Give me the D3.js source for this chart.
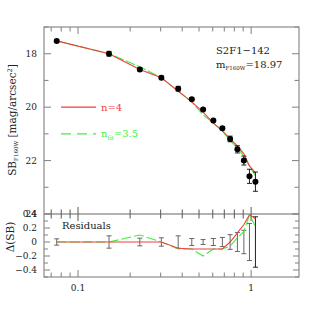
<!DOCTYPE html>
<html><head><meta charset="utf-8">
<script src="https://cdn.jsdelivr.net/npm/d3@7"></script>
<style>body{margin:0;background:#fff}svg{display:block}</style>
</head><body>
<script>
// Data
const radius = [0.0753, 0.151, 0.2275, 0.303, 0.379, 0.454, 0.528, 0.605, 0.682, 0.756, 0.833, 0.908, 0.978, 1.059];
const sb     = [17.52, 18.00, 18.59, 18.90, 19.31, 19.70, 20.09, 20.50, 20.79, 21.19, 21.58, 22.00, 22.59, 22.79];
const sbErr  = [0.045, 0.088, 0.055, 0.06, 0.088, 0.05, 0.035, 0.05, 0.065, 0.105, 0.135, 0.167, 0.265, 0.36];
const residN4  = [0, 0, 0, 0, -0.09, -0.1, -0.1, -0.1, -0.1, 0.0, 0.13, 0.25, 0.39, 0.33];
const residFit = [0, 0, 0.1, 0, -0.1, -0.1, -0.2, -0.1, -0.1, -0.06, 0.06, 0.15, 0.39, 0.22];
const xMajor = [0.1, 1];
const xMinor = [0.07, 0.08, 0.09, 0.2, 0.3, 0.4, 0.5, 0.6, 0.7, 0.8, 0.9];
const yMainMajor = [18, 20, 22, 24];
const yMainMinor = [17, 19, 21, 23];
const yResMajor = [-0.4, -0.2, 0, 0.2, 0.4];
const yResMinor = [-0.5, -0.3, -0.1, 0.1, 0.3];
const objName = "S2F1−142";
const magLabel = "18.97";

const W = 316, H = 316;
const L = 44, R = 299, T = 27, M = 214, B = 277;
const svg = d3.select("body").append("svg").attr("width", W).attr("height", H);
const font = "DejaVu Serif";
const axisCol = "#8a8a8a";
const red = "#f04040", green = "#40ee40";

const x = d3.scaleLog().domain([0.0636, 1.89]).range([L, R]);
const y = d3.scaleLinear().domain([17, 24]).range([T, M]);
const yr = d3.scaleLinear().domain([0.4, -0.5]).range([M, B]);

const g = svg.append("g");

// frames
g.append("rect").attr("x", L).attr("y", T).attr("width", R - L).attr("height", B - T)
  .attr("fill", "none").attr("stroke", axisCol).attr("stroke-width", 1.2);
g.append("line").attr("x1", L).attr("x2", R).attr("y1", M).attr("y2", M)
  .attr("stroke", "#666").attr("stroke-width", 1.2);

function tick(x1, y1, x2, y2, col) {
  g.append("line").attr("x1", x1).attr("y1", y1).attr("x2", x2).attr("y2", y2)
    .attr("stroke", col || axisCol).attr("stroke-width", 1.1);
}
// x ticks: top of main, both sides of divider, bottom of residual
[[xMajor, 7], [xMinor, 4.5]].forEach(([arr, len]) => {
  arr.forEach(v => {
    const px = x(v);
    tick(px, T, px, T + len);
    tick(px, M, px, M - len, "#666");
    tick(px, M, px, M + len, "#666");
    tick(px, B, px, B - len);
  });
});
// y ticks main
[[yMainMajor, 7], [yMainMinor, 4.5]].forEach(([arr, len]) => {
  arr.forEach(v => { tick(L, y(v), L + len, y(v)); tick(R, y(v), R - len, y(v)); });
});
[[yResMajor, 6], [yResMinor, 4]].forEach(([arr, len]) => {
  arr.forEach(v => { tick(L, yr(v), L + len, yr(v)); tick(R, yr(v), R - len, yr(v)); });
});

// tick labels
const tl = svg.append("g").attr("font-family", font).attr("font-size", 9).attr("fill", "#222");
yMainMajor.forEach(v => tl.append("text").attr("x", 37).attr("y", y(v)).attr("dy", "0.35em")
  .attr("text-anchor", "end").text(v));
yResMajor.forEach(v => tl.append("text").attr("x", 37).attr("y", yr(v)).attr("dy", "0.35em")
  .attr("text-anchor", "end").text(v === 0 ? "0" : (v < 0 ? "−" + Math.abs(v) : v)));
xMajor.forEach(v => tl.append("text").attr("x", x(v)).attr("y", 291)
  .attr("text-anchor", "middle").text(v));

// axis titles
const yt = svg.append("text").attr("font-family", font).attr("font-size", 10.5).attr("fill", "#222")
  .attr("text-anchor", "middle").attr("transform", "translate(16,120) rotate(-90)");
yt.append("tspan").text("SB");
yt.append("tspan").attr("font-size", 5.5).attr("dy", 2).text("F160W");
yt.append("tspan").attr("dy", -2).text(" [mag/arcsec");
yt.append("tspan").attr("font-size", 6.5).attr("dy", -4).text("2");
yt.append("tspan").attr("dy", 4).text("]");
svg.append("text").attr("font-family", font).attr("font-size", 10.5).attr("fill", "#222")
  .attr("text-anchor", "middle").attr("transform", "translate(14,237) rotate(-90)").text("Δ(SB)");

// annotation
const ann = svg.append("g").attr("font-family", font).attr("font-size", 10).attr("fill", "#222");
ann.append("text").attr("x", 216).attr("y", 54).text(objName);
const mt = ann.append("text").attr("x", 216).attr("y", 68);
mt.append("tspan").text("m");
mt.append("tspan").attr("font-size", 5.5).attr("dy", 2).text("F160W");
mt.append("tspan").attr("dy", -2).text("=" + magLabel);
ann.append("text").attr("x", 62).attr("y", 229).text("Residuals");

// legend
svg.append("line").attr("x1", 61).attr("x2", 96).attr("y1", y(20)).attr("y2", y(20))
  .attr("stroke", red).attr("stroke-width", 1.1);
svg.append("text").attr("x", 101).attr("y", y(20)).attr("dy", "0.35em").attr("font-family", font)
  .attr("font-size", 10).attr("fill", red).text("n=4");
svg.append("line").attr("x1", 61).attr("x2", 96).attr("y1", y(21)).attr("y2", y(21))
  .attr("stroke", green).attr("stroke-width", 1.1).attr("stroke-dasharray", "10,6");
const lg = svg.append("text").attr("x", 101).attr("y", y(21)).attr("dy", "0.35em").attr("font-family", font)
  .attr("font-size", 10).attr("fill", green);
lg.append("tspan").text("n");
lg.append("tspan").attr("font-size", 6).attr("dy", 2.5).text("fit");
lg.append("tspan").attr("dy", -2.5).text("=3.5");

// models (data minus residual)
const idx = d3.range(radius.length);
const modelN4 = idx.map(i => sb[i] - residN4[i]);
const modelFit = idx.map(i => sb[i] - residFit[i]);
const lineMain = d3.line().x(i => x(radius[i]));
svg.append("path").attr("d", d3.line().x(i => x(radius[i])).y(i => y(modelFit[i]))(idx))
  .attr("fill", "none").attr("stroke", green).attr("stroke-width", 1.1).attr("stroke-dasharray", "10,2");
svg.append("path").attr("d", d3.line().x(i => x(radius[i])).y(i => y(modelN4[i]))(idx))
  .attr("fill", "none").attr("stroke", red).attr("stroke-width", 1.1);

// main error bars + points
const eb = svg.append("g").attr("stroke", "#222").attr("stroke-width", 1);
idx.forEach(i => {
  const px = x(radius[i]);
  const y1 = y(sb[i] - sbErr[i]), y2 = y(sb[i] + sbErr[i]);
  eb.append("line").attr("x1", px).attr("x2", px).attr("y1", y1).attr("y2", y2);
  eb.append("line").attr("x1", px - 2.5).attr("x2", px + 2.5).attr("y1", y1).attr("y2", y1);
  eb.append("line").attr("x1", px - 2.5).attr("x2", px + 2.5).attr("y1", y2).attr("y2", y2);
});
svg.append("g").selectAll("circle").data(idx).join("circle")
  .attr("cx", i => x(radius[i])).attr("cy", i => y(sb[i])).attr("r", 3).attr("fill", "#000");

// residual error bars
const rb = svg.append("g").attr("stroke-width", 1);
idx.forEach(i => {
  const px = x(radius[i]);
  const col = i === radius.length - 1 ? "#222" : "#666";
  const y1 = yr(sbErr[i]), y2 = yr(-sbErr[i]);
  rb.append("line").attr("stroke", col).attr("x1", px).attr("x2", px).attr("y1", y1).attr("y2", y2);
  rb.append("line").attr("stroke", col).attr("x1", px - 2.5).attr("x2", px + 2.5).attr("y1", y1).attr("y2", y1);
  rb.append("line").attr("stroke", col).attr("x1", px - 2.5).attr("x2", px + 2.5).attr("y1", y2).attr("y2", y2);
});
// residual lines
svg.append("path").attr("d", d3.line().x(i => x(radius[i])).y(i => yr(residFit[i]))(idx))
  .attr("fill", "none").attr("stroke", green).attr("stroke-width", 1.1).attr("stroke-dasharray", "10,3");
svg.append("path").attr("d", d3.line().x(i => x(radius[i])).y(i => yr(residN4[i]))(idx))
  .attr("fill", "none").attr("stroke", red).attr("stroke-width", 1.1);
</script>
</body></html>
